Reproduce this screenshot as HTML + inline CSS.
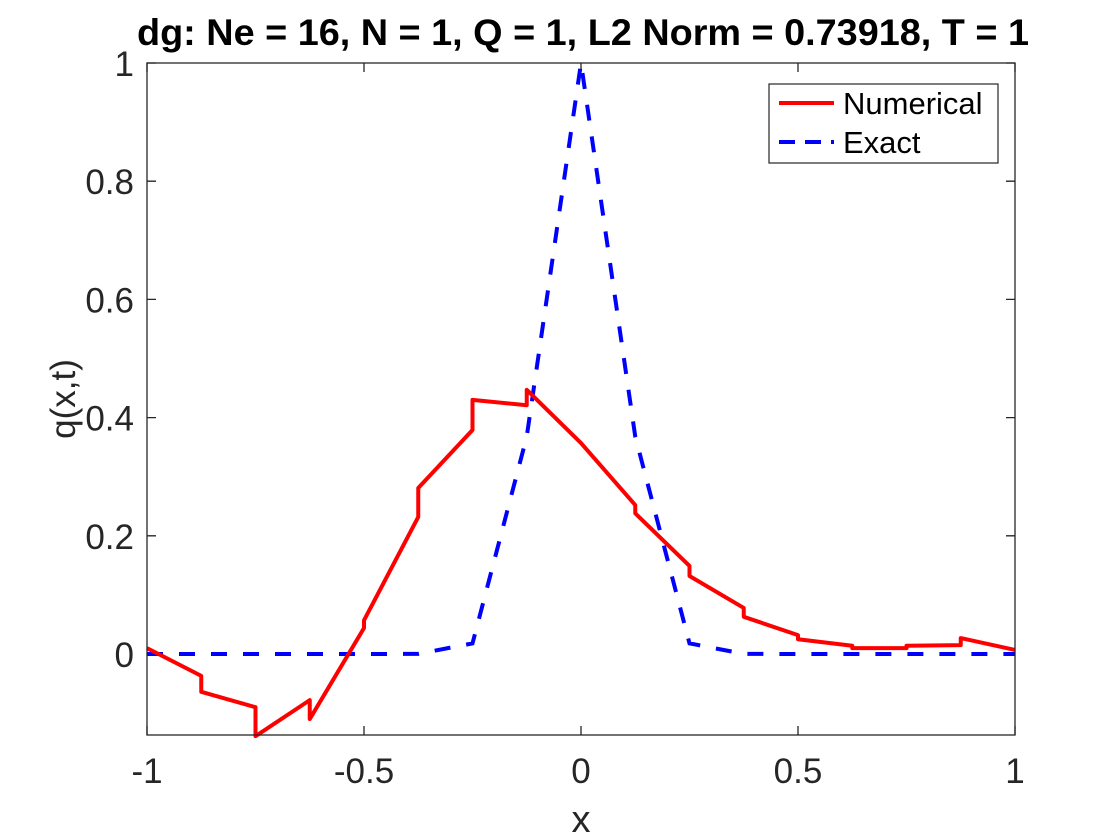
<!DOCTYPE html>
<html><head><meta charset="utf-8"><style>
body{margin:0;background:#fff;}
svg{display:block;font-family:"Liberation Sans",Arial,sans-serif;}
</style></head><body>
<svg id="chart" width="1120" height="840">
<rect x="0" y="0" width="1120" height="840" fill="#fff"/>
<g id="ticks"></g>
<g id="series"></g>
<rect x="147" y="63" width="868" height="672" fill="none" stroke="#262626" stroke-width="1.3"/>
<text x="583" y="45" text-anchor="middle" font-size="37" font-weight="bold" fill="#000" textLength="892" lengthAdjust="spacingAndGlyphs">dg: Ne = 16, N = 1, Q = 1, L2 Norm = 0.73918, T = 1</text>
<text x="581" y="832" text-anchor="middle" font-size="38" fill="#262626">x</text>
<text transform="translate(75,399) rotate(-90)" text-anchor="middle" font-size="35" fill="#262626">q(x,t)</text>
<g>
<rect x="769" y="84" width="229" height="79" fill="#fff" stroke="#262626" stroke-width="1.2"/>
<line x1="779" y1="103" x2="834" y2="103" stroke="#f00" stroke-width="4"/>
<text x="843" y="114" font-size="31" fill="#000">Numerical</text>
<line x1="779" y1="142" x2="834" y2="142" stroke="#00f" stroke-width="4" stroke-dasharray="16,10"/>
<text x="843" y="153" font-size="31" fill="#000">Exact</text>
</g>
</svg>
<script>
// Numerical: element boundaries with left/right values
const elemEdges = [-1,-0.875,-0.75,-0.625,-0.5,-0.375,-0.25,-0.125,0,0.125,0.25,0.375,0.5,0.625,0.75,0.875,1];
const numLeft  = [null,-0.037,-0.090,-0.078,0.044,0.232,0.379,0.421,0.357,0.252,0.149,0.078,0.032,0.014,0.010,0.015,0.007];
const numRight = [0.010,-0.064,-0.139,-0.110,0.057,0.281,0.430,0.447,0.357,0.238,0.132,0.063,0.025,0.010,0.014,0.027,null];
const exactVals = [0,0,0,0,0,0.0003,0.018,0.368,1,0.368,0.018,0.0003,0,0,0,0,0];
const xTicks = [-1,-0.5,0,0.5,1];
const xTickLabels = ["-1","-0.5","0","0.5","1"];
const yTicks = [0,0.2,0.4,0.6,0.8,1];
const yTickLabels = ["0","0.2","0.4","0.6","0.8","1"];

const X0=147,X1=1015,YT=63,YB=735,ymin=-0.137,ymax=1;
const sx=v=>X0+(v+1)/2*(X1-X0);
const sy=v=>YB-(v-ymin)/(ymax-ymin)*(YB-YT);
const NS="http://www.w3.org/2000/svg";
const tg=document.getElementById('ticks'), sg=document.getElementById('series');
function mk(tag,attrs,parent){const e=document.createElementNS(NS,tag);for(const k in attrs)e.setAttribute(k,attrs[k]);parent.appendChild(e);return e;}
xTicks.forEach((v,i)=>{
  const x=sx(v);
  const l=mk('path',{d:`M${x},${YB}v-9M${x},${YT}v9`,stroke:'#262626','stroke-width':1.3},tg);
  
  
  const t=mk('text',{x:x,y:783,'text-anchor':'middle','font-size':35,fill:'#262626'},tg);
  t.textContent=xTickLabels[i];
  
  
});
yTicks.forEach((v,i)=>{
  const y=sy(v);
  const l=mk('path',{d:`M${X0},${y}h9M${X1},${y}h-9`,stroke:'#262626','stroke-width':1.3},tg);
  
  
  const t=mk('text',{x:134,y:y+13,'text-anchor':'end','font-size':35,fill:'#262626'},tg);
  t.textContent=yTickLabels[i];
  
  
});
// exact
let d='';
elemEdges.forEach((x,i)=>{d+=(i?'L':'M')+sx(x)+','+sy(exactVals[i]);});
const ex=mk('path',{d:d,fill:'none',stroke:'#00f','stroke-width':4,'stroke-dasharray':'16,16'},sg);


// numerical
d='';let first=true;
elemEdges.forEach((x,i)=>{
  [numLeft[i],numRight[i]].forEach(v=>{if(v===null)return;d+=(first?'M':'L')+sx(x)+','+sy(v);first=false;});
});
const nu=mk('path',{d:d,fill:'none',stroke:'#f00','stroke-width':4,'stroke-linejoin':'round'},sg);


</script>
</body></html>
